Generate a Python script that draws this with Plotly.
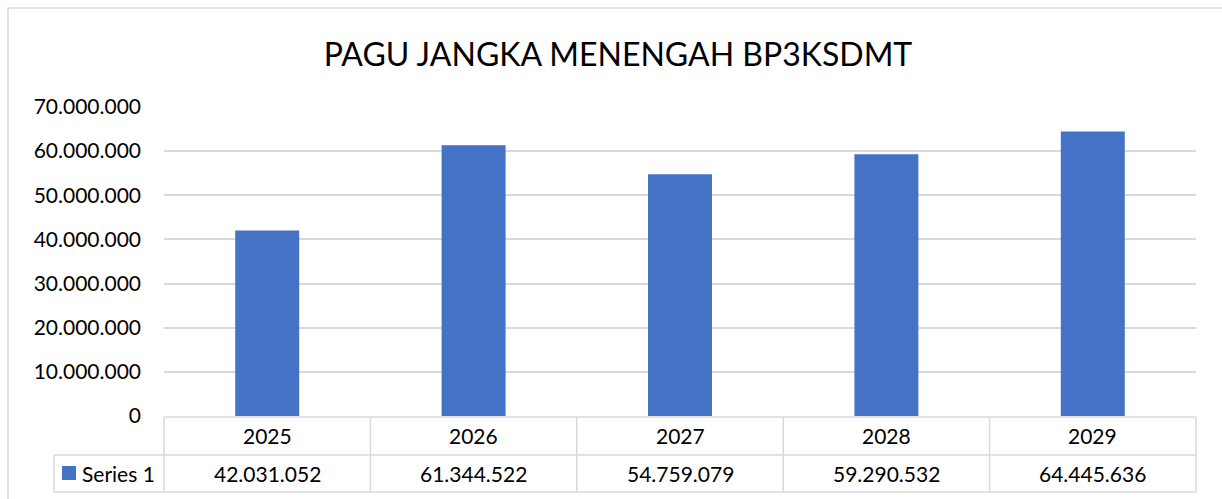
import plotly.graph_objects as go

categories = ["2025", "2026", "2027", "2028", "2029"]
series_name = "Series 1"
values = [42031052, 61344522, 54759079, 59290532, 64445636]
tick_vals = [0, 10000000, 20000000, 30000000, 40000000, 50000000, 60000000, 70000000]
title_text = "PAGU JANGKA MENENGAH BP3KSDMT"

W, H = 1222, 499
L, R, T, B = 164, 1196, 107, 416  # plot area in pixels
FONT = "Lato, Carlito, 'Open Sans', sans-serif"
GRID = "#d9d9d9"
BAR = "#4472C4"


def px(x):
    return (x - L) / (R - L)


def py(y):
    return (B - y) / (B - T)


def fmt(v):
    return f"{v:,}".replace(",", ".")


fig = go.Figure()
fig.add_trace(go.Bar(x=categories, y=values, marker=dict(color=BAR, line=dict(width=0)),
                     name=series_name, showlegend=False))

shapes = []
# outer chart border
shapes.append(dict(type="rect", xref="paper", yref="paper", x0=px(8), x1=px(1240), y0=py(8), y1=py(520),
                   line=dict(color=GRID, width=1.5), layer="below"))
# table lines
line = dict(color=GRID, width=1.5)
row_top, row_mid, row_bot = 417, 455, 492
col_x = [L + i * (R - L) / len(categories) for i in range(len(categories) + 1)]
shapes.append(dict(type="line", xref="paper", yref="paper", x0=px(L), x1=px(R), y0=py(row_top), y1=py(row_top), line=line))
for yy in (row_mid, row_bot):
    shapes.append(dict(type="line", xref="paper", yref="paper", x0=px(54), x1=px(R), y0=py(yy), y1=py(yy), line=line))
for xx in col_x:
    shapes.append(dict(type="line", xref="paper", yref="paper", x0=px(xx), x1=px(xx), y0=py(row_top), y1=py(row_bot), line=line))
shapes.append(dict(type="line", xref="paper", yref="paper", x0=px(54), x1=px(54), y0=py(row_mid), y1=py(row_bot), line=line))
# legend key
shapes.append(dict(type="rect", xref="paper", yref="paper", x0=px(62), x1=px(76), y0=py(480), y1=py(466),
                   fillcolor=BAR, line=dict(width=0)))

annotations = []
for i, c in enumerate(categories):
    annotations.append(dict(x=i, xref="x", y=py((row_top + row_mid) / 2), yref="paper", text=c,
                            showarrow=False, font=dict(family=FONT, size=21, color="#000000"),
                            xanchor="center", yanchor="middle"))
    annotations.append(dict(x=i, xref="x", y=py((row_mid + row_bot) / 2), yref="paper", text=fmt(values[i]),
                            showarrow=False, font=dict(family=FONT, size=21, color="#000000"),
                            xanchor="center", yanchor="middle"))
annotations.append(dict(x=px(80), xref="paper", y=py((row_mid + row_bot) / 2), yref="paper", text=series_name,
                        showarrow=False, font=dict(family=FONT, size=21, color="#000000"),
                        xanchor="left", yanchor="middle"))

fig.update_layout(
    width=W, height=H,
    margin=dict(l=L, r=W - R, t=T, b=H - B, pad=0),
    paper_bgcolor="white", plot_bgcolor="white",
    separators=",.",
    bargap=0.69,
    title=dict(text=title_text, x=618 / W, xref="container", xanchor="center", y=1 - 55 / H, yanchor="middle",
               font=dict(family=FONT, size=32, color="#000000")),
    font=dict(family=FONT, size=21, color="#000000"),
    shapes=shapes,
    annotations=annotations,
    xaxis=dict(range=[-0.5, len(categories) - 0.5], showticklabels=False, showgrid=False,
               zeroline=False, showline=False, ticks=""),
    yaxis=dict(range=[0, 70000000], tickvals=tick_vals, tickformat=",d", showgrid=True, gridcolor=GRID,
               gridwidth=1.5, zeroline=False, showline=False, ticks="", ticklabelstandoff=22,
               tickfont=dict(family=FONT, size=21, color="#000000")),
)

fig.write_html("out.html")
